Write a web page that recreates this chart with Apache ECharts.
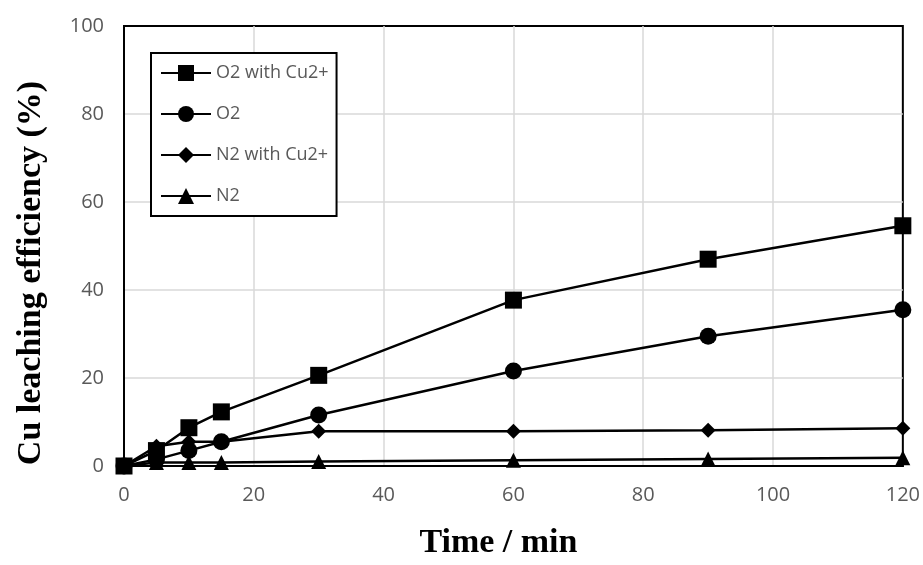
<!DOCTYPE html>
<html>
<head>
<meta charset="utf-8">
<script src="https://cdn.jsdelivr.net/npm/echarts@6/dist/echarts.min.js"></script>
<style>
  html, body { margin: 0; padding: 0; background: #fff; }
  #main { width: 923px; height: 565px; }
</style>
</head>
<body>
<div id="main"></div>
<script>
// 时间点 (min)
var times = [0, 5, 10, 15, 30, 60, 90, 120];
// 浸出率 (%)
var o2Cu = [0, 3.5, 8.7, 12.3, 20.6, 37.7, 47.0, 54.6];
var o2 = [0, 1.5, 3.5, 5.5, 11.6, 21.6, 29.5, 35.5];
var n2Cu = [0, 4.5, 5.5, 5.5, 7.9, 7.9, 8.1, 8.6];
var n2 = [0, 0.8, 0.8, 0.8, 1.0, 1.3, 1.6, 1.9];
var xTicks = [0, 20, 40, 60, 80, 100, 120];
var yTicks = [0, 20, 40, 60, 80, 100];

var chart = echarts.init(document.getElementById('main'));

function pairs(vals) {
  return times.map(function (t, i) { return [t, vals[i]]; });
}

function line(name, vals, symbol, size) {
  return {
    name: name,
    type: 'line',
    data: pairs(vals),
    symbol: symbol,
    symbolSize: size,
    lineStyle: { color: '#000', width: 2.5 },
    itemStyle: { color: '#000' },
    animation: false
  };
}

var labelFont = { color: '#595959', fontSize: 20, fontFamily: 'Open Sans' };
var titleFont = { fontFamily: 'Liberation Serif', fontWeight: 'bold', fontSize: 34, color: '#000' };

var option = {
  backgroundColor: '#fff',
  grid: {
    left: 124, right: 19, top: 26, bottom: 99,
    show: true, borderColor: '#000', borderWidth: 2
  },
  // 图例
  legend: {
    left: 151, top: 53,
    orient: 'vertical',
    itemWidth: 50, itemHeight: 20, itemGap: 23,
    padding: [11, 8, 11, 9],
    borderColor: '#000', borderWidth: 2,
    backgroundColor: '#fff',
    textStyle: { color: '#595959', fontSize: 18, fontFamily: 'Open Sans' },
    data: ['O2 with Cu2+', 'O2', 'N2 with Cu2+', 'N2']
  },
  xAxis: {
    type: 'value',
    min: 0, max: 120, interval: 20,
    name: 'Time / min',
    nameLocation: 'middle',
    nameGap: 60,
    nameTextStyle: Object.assign({ padding: [0, 30, 0, 0] }, titleFont),
    axisLine: { lineStyle: { color: '#000', width: 2 } },
    axisTick: { show: false },
    axisLabel: Object.assign({ margin: 19 }, labelFont),
    splitLine: { showMaxLine: false, lineStyle: { color: '#d9d9d9', width: 1.5 } }
  },
  yAxis: {
    type: 'value',
    min: 0, max: 100, interval: 20,
    name: 'Cu leaching efficiency (%)',
    nameLocation: 'middle',
    nameGap: 76,
    nameTextStyle: Object.assign({ padding: [0, 54, 0, 0] }, titleFont),
    axisLine: { show: true, lineStyle: { color: '#000', width: 2 } },
    axisTick: { show: false },
    axisLabel: Object.assign({ margin: 20 }, labelFont),
    splitLine: { showMaxLine: false, lineStyle: { color: '#d9d9d9', width: 1.5 } }
  },
  series: [
    line('O2 with Cu2+', o2Cu, 'rect', 17),
    line('O2', o2, 'circle', 17),
    line('N2 with Cu2+', n2Cu, 'diamond', 15),
    line('N2', n2, 'triangle', 15)
  ]
};
chart.setOption(option);
</script>
</body>
</html>
